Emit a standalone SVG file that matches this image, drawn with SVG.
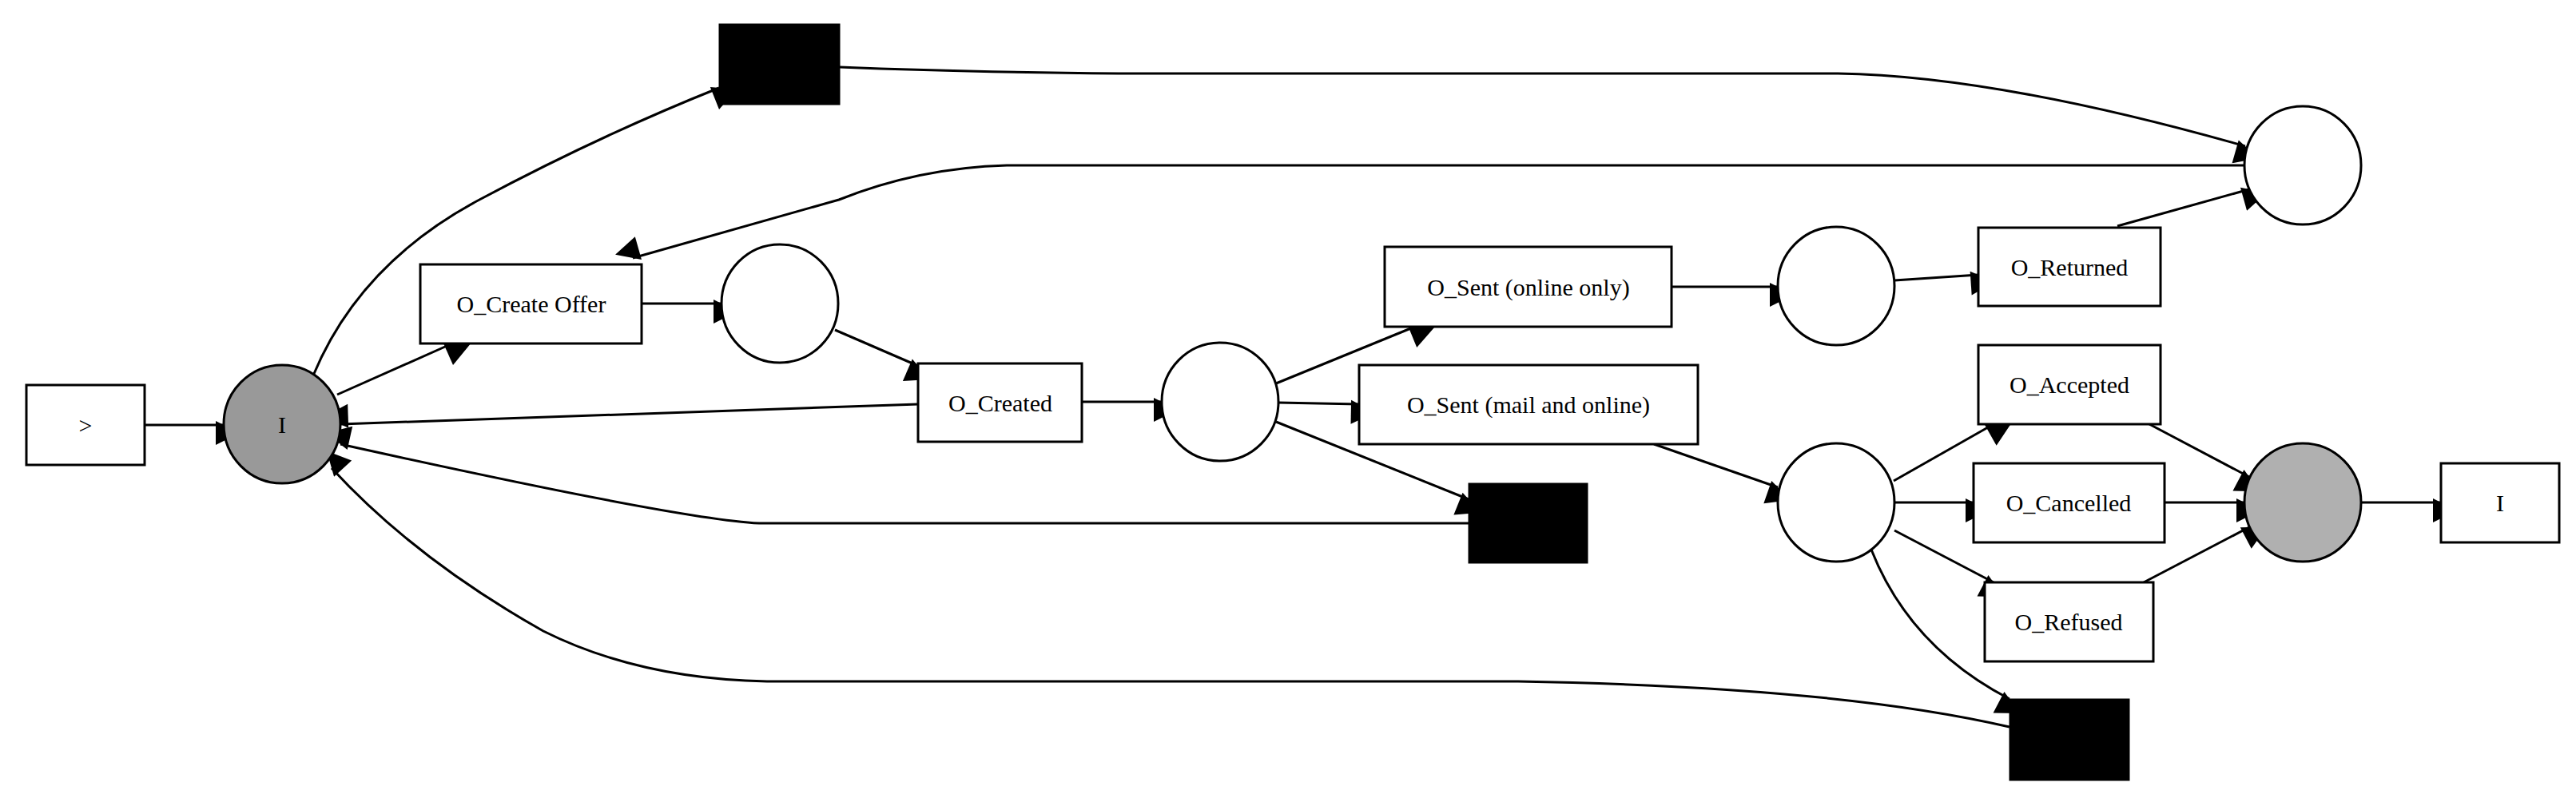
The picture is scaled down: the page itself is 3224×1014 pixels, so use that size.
<svg xmlns="http://www.w3.org/2000/svg" width="3224" height="1014" viewBox="0 0 3224 1014">
<style>
.t rect{fill:#fff;stroke:#000;stroke-width:3}
.b rect{fill:#000;stroke:#000}
.p ellipse{fill:#fff;stroke:#000;stroke-width:3}
text{font-family:"Liberation Serif",serif;font-size:30px;text-anchor:middle;dominant-baseline:central;fill:#000}
#edges path{fill:none;stroke:#000;stroke-width:3;marker-end:url(#ah)}
</style>
<defs>
<marker id="ah" viewBox="0 0 10 10" refX="10" refY="5" markerWidth="10" markerHeight="10" markerUnits="userSpaceOnUse" orient="auto" overflow="visible">
<path d="M0,0 L10,5 L0,10 z" transform="scale(3)" fill="#000"/>
</marker>
</defs>
<rect width="3224" height="1014" fill="#fff"/>
<g id="edges">
<path d="M181,532 L280,532"/>
<path d="M392,470 Q450,330 600,250 Q750,170 900,110"/>
<path d="M1051,84 Q1200,90 1400,92 L2300,92 Q2500,95 2810,183"/>
<path d="M2808,207 L1260,207 Q1150,210 1050,250 L792,323"/>
<path d="M422,494 L566,430"/>
<path d="M803,380 L903,380"/>
<path d="M1045,413 L1149,458"/>
<path d="M1149,506 Q900,515 426,531"/>
<path d="M1354,503 L1454,503"/>
<path d="M1597,480 L1773,408"/>
<path d="M1600,504 L1701,506"/>
<path d="M1597,528 L1838,625"/>
<path d="M1838,655 L950,655 Q850,650 426,556"/>
<path d="M2092,359 L2225,359"/>
<path d="M2371,351 L2476,344"/>
<path d="M2650,283 L2815,237"/>
<path d="M2070,556 L2225,610"/>
<path d="M2370,602 L2495,531"/>
<path d="M2371,629 L2470,629"/>
<path d="M2371,664 L2495,729"/>
<path d="M2342,688 Q2390,810 2515,875"/>
<path d="M2515,910 Q2300,860 1900,853 L960,853 Q800,850 680,790 Q520,700 415,586"/>
<path d="M2690,531 L2815,597"/>
<path d="M2709,629 L2809,629"/>
<path d="M2683,729 L2815,660"/>
<path d="M2955,629 L3055,629"/>
</g>
<g id="start" class="t"><rect x="33" y="482" width="148" height="100"/><text x="107" y="532">&gt;</text></g>
<g id="p_source" class="p"><ellipse cx="353" cy="531" rx="73" ry="74" style="fill:#999"/><text x="353" y="531">I</text></g>
<g id="tau1" class="b"><rect x="900" y="30" width="151" height="101"/></g>
<g id="create_offer" class="t"><rect x="526" y="331" width="277" height="99"/><text x="665" y="380">O_Create Offer</text></g>
<g id="p1" class="p"><ellipse cx="976" cy="380" rx="73" ry="74"/></g>
<g id="created" class="t"><rect x="1149" y="455" width="205" height="98"/><text x="1252" y="504">O_Created</text></g>
<g id="p2" class="p"><ellipse cx="1527" cy="503" rx="73" ry="74"/></g>
<g id="sent_online" class="t"><rect x="1733" y="309" width="359" height="100"/><text x="1913" y="359">O_Sent (online only)</text></g>
<g id="sent_mail" class="t"><rect x="1701" y="457" width="424" height="99"/><text x="1913" y="506">O_Sent (mail and online)</text></g>
<g id="tau2" class="b"><rect x="1838" y="605" width="149" height="100"/></g>
<g id="p3" class="p"><ellipse cx="2298" cy="358" rx="73" ry="74"/></g>
<g id="returned" class="t"><rect x="2476" y="285" width="228" height="98"/><text x="2590" y="334">O_Returned</text></g>
<g id="p4" class="p"><ellipse cx="2882" cy="207" rx="73" ry="74"/></g>
<g id="p5" class="p"><ellipse cx="2298" cy="629" rx="73" ry="74"/></g>
<g id="accepted" class="t"><rect x="2476" y="432" width="228" height="99"/><text x="2590" y="481">O_Accepted</text></g>
<g id="cancelled" class="t"><rect x="2470" y="580" width="239" height="99"/><text x="2589" y="629">O_Cancelled</text></g>
<g id="refused" class="t"><rect x="2484" y="729" width="211" height="99"/><text x="2589" y="778">O_Refused</text></g>
<g id="tau3" class="b"><rect x="2515" y="875" width="150" height="102"/></g>
<g id="p_sink" class="p"><ellipse cx="2882" cy="629" rx="73" ry="74" style="fill:#b0b0b0"/></g>
<g id="end" class="t"><rect x="3055" y="580" width="148" height="99"/><text x="3129" y="629">I</text></g>
</svg>
